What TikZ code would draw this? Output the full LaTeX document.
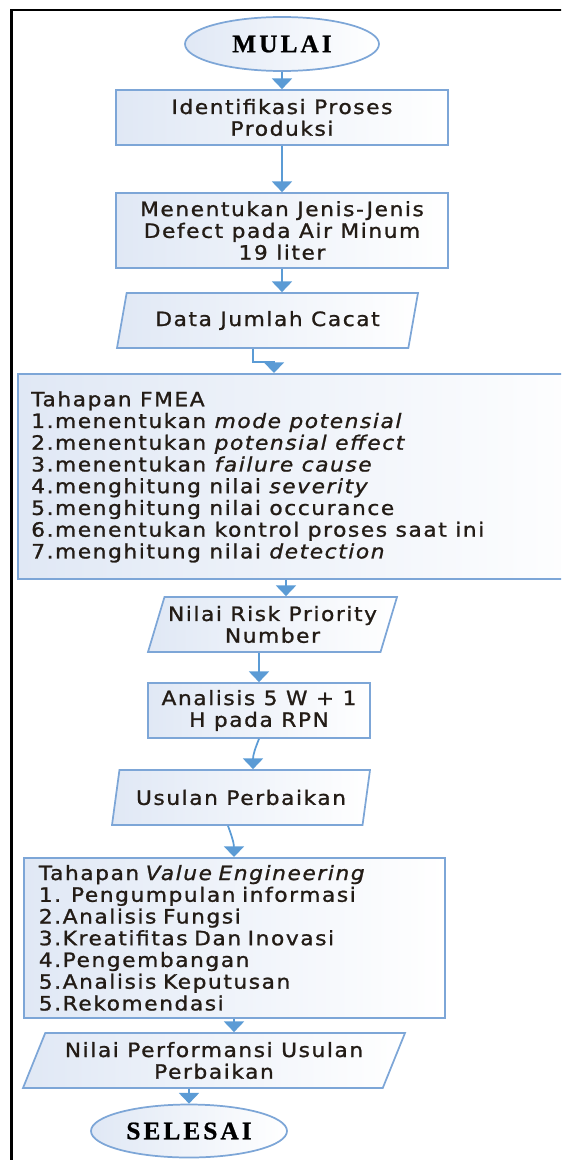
\documentclass[tikz,border=0pt]{standalone}
\usepackage{fontspec}
\setmainfont{DejaVu Sans}[FakeStretch=1.1,LetterSpace=8,FakeBold=1.2]
\newfontfamily\judulfont{Liberation Serif}[LetterSpace=12,FakeBold=0.8]
\usetikzlibrary{shapes.geometric,arrows.meta}

\definecolor{garisbiru}{RGB}{125,166,215}
\definecolor{panahbiru}{RGB}{91,155,213}
\definecolor{isibiru}{RGB}{224,232,245}
\definecolor{teks}{RGB}{35,28,22}

\tikzset{
  kotak/.style={draw=garisbiru, line width=1.3pt, left color=isibiru, right color=white,
    inner sep=0pt, align=center, text=teks, font=\fontsize{14.8}{16.3}\selectfont},
  proses/.style={kotak, rectangle},
  masukan/.style 2 args={kotak, trapezium, trapezium stretches body, inner xsep=-12pt,
    trapezium left angle=#1, trapezium right angle=#2},
  terminal/.style={kotak, ellipse, text=black,
    font=\judulfont\bfseries\fontsize{19}{20}\selectfont},
  panah/.style={draw=panahbiru, line width=1.3pt, -{Triangle[width=15pt,length=8pt]}},
}

\begin{document}
\begin{tikzpicture}[x=0.75pt,y=0.75pt,yscale=-1,xscale=1]
\useasboundingbox (0,0) rectangle (561,1160);
\clip (0,0) rectangle (561,1160);

%Frame
\draw [line width=1.8pt] (11.5,1200) -- (11.5,10) -- (620,10) ;

% Terminal
\node [terminal, minimum width=145.5pt, minimum height=40.5pt] (mulai) at (282,44) {MULAI};
% Process
\node [proses, minimum width=249pt, minimum height=41.25pt] (identifikasi) at (282,117.5) {Identifikasi Proses\\Produksi};
% Process
\node [proses, minimum width=249pt, minimum height=56.25pt] (jenis) at (282,230.5) {Menentukan Jenis-Jenis\\Defect pada Air Minum\\19 liter};
% Data
\node [masukan={63}{117}, minimum width=225.75pt, minimum height=41.25pt] (jumlah) at (267.5,320.5) {Data Jumlah Cacat};
% Process
\node [proses, anchor=north west, minimum width=437.25pt, minimum height=153.75pt] (fmea) at (17,373) {};
\node [text=teks, font=\fontsize{14.8}{16.3}\selectfont, align=left, inner sep=0pt, anchor=north west] (fmea teks) at (31,391)
  {Tahapan FMEA\\
   1.menentukan \textit{mode potensial}\\
   2.menentukan \textit{potensial effect}\\
   3.menentukan \textit{failure cause}\\
   4.menghitung nilai \textit{severity}\\
   5.menghitung nilai occurance\\
   6.menentukan kontrol proses saat ini\\
   7.menghitung nilai \textit{detection}};
% Data
\node [masukan={66}{114}, minimum width=186.75pt, minimum height=41.25pt] (rpn) at (272.5,624.5) {Nilai Risk Priority\\Number};
% Process
\node [proses, minimum width=166.5pt, minimum height=41.25pt] (analisis) at (259,710.5) {Analisis 5 W + 1\\H pada RPN};
% Data
\node [masukan={64}{116}, minimum width=193.5pt, minimum height=41.25pt] (usulan) at (241,797.5) {Usulan Perbaikan};
% Process
\node [proses, anchor=north west, align=left, text width=293.25pt, inner xsep=11.25pt, minimum height=120pt] (ve) at (23,857)
  {Tahapan \textit{Value Engineering}\\
   1. Pengumpulan informasi\\
   2.Analisis Fungsi\\
   3.Kreatifitas Dan Inovasi\\
   4.Pengembangan\\
   5.Analisis Keputusan\\
   5.Rekomendasi};
% Data
\node [masukan={59}{121}, minimum width=286.5pt, minimum height=41.25pt] (performansi) at (214,1060.5) {Nilai Performansi Usulan\\Perbaikan};
% Terminal
\node [terminal, minimum width=147pt, minimum height=39.75pt] (selesai) at (189,1131) {SELESAI};

%Connectors
\draw [panah] (mulai) -- (identifikasi) ;
\draw [panah] (identifikasi) -- (jenis) ;
\draw [panah] (jenis.south) -- (jenis.south |- jumlah.north) ;
\draw [panah] (253,0 |- jumlah.south) -- ++(0,13) -| (274,0 |- fmea.north) ;
\draw [panah] (286,0 |- fmea.south) -- (286,0 |- rpn.north) ;
\draw [panah] (analisis.north |- rpn.south) -- (analisis.north) ;
\draw [panah] (analisis.south) .. controls +(-4,10) and +(0,-14) .. (253,0 |- usulan.north) ;
\draw [panah] (228,0 |- usulan.south) .. controls +(3,8) and +(0,-14) .. (234,0 |- ve.north) ;
\draw [panah] (234,0 |- ve.south) -- (234,0 |- performansi.north) ;
\draw [panah] (selesai.north |- performansi.south) -- (selesai.north) ;

\end{tikzpicture}
\end{document}
